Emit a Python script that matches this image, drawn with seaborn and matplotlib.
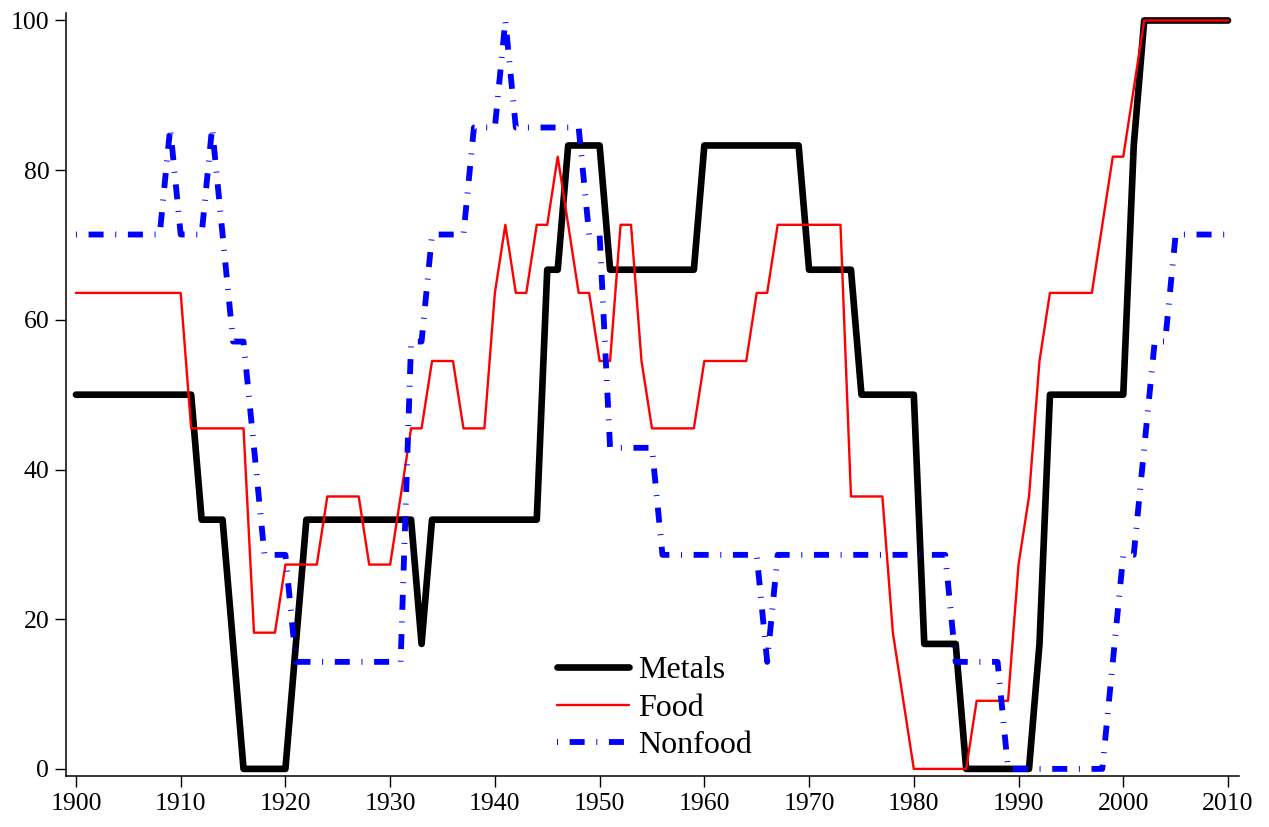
import numpy as np
import pandas as pd
import matplotlib
matplotlib.use("Agg")
import matplotlib.pyplot as plt
import seaborn as sns

# Share (%) of commodities in each group, annual, 1900-2010
years = np.arange(1900, 2011)

metals = [
    50.0, 50.0, 50.0, 50.0, 50.0, 50.0, 50.0, 50.0, 50.0, 50.0,   # 1900s
    50.0, 50.0, 33.3, 33.3, 33.3, 16.7, 0.0, 0.0, 0.0, 0.0,       # 1910s
    0.0, 16.7, 33.3, 33.3, 33.3, 33.3, 33.3, 33.3, 33.3, 33.3,    # 1920s
    33.3, 33.3, 33.3, 16.7, 33.3, 33.3, 33.3, 33.3, 33.3, 33.3,   # 1930s
    33.3, 33.3, 33.3, 33.3, 33.3, 66.7, 66.7, 83.3, 83.3, 83.3,   # 1940s
    83.3, 66.7, 66.7, 66.7, 66.7, 66.7, 66.7, 66.7, 66.7, 66.7,   # 1950s
    83.3, 83.3, 83.3, 83.3, 83.3, 83.3, 83.3, 83.3, 83.3, 83.3,   # 1960s
    66.7, 66.7, 66.7, 66.7, 66.7, 50.0, 50.0, 50.0, 50.0, 50.0,   # 1970s
    50.0, 16.7, 16.7, 16.7, 16.7, 0.0, 0.0, 0.0, 0.0, 0.0,        # 1980s
    0.0, 0.0, 16.7, 50.0, 50.0, 50.0, 50.0, 50.0, 50.0, 50.0,     # 1990s
    50.0, 83.3, 100.0, 100.0, 100.0, 100.0, 100.0, 100.0, 100.0, 100.0,  # 2000s
    100.0,
]

food = [
    63.6, 63.6, 63.6, 63.6, 63.6, 63.6, 63.6, 63.6, 63.6, 63.6,   # 1900s
    63.6, 45.5, 45.5, 45.5, 45.5, 45.5, 45.5, 18.2, 18.2, 18.2,   # 1910s
    27.3, 27.3, 27.3, 27.3, 36.4, 36.4, 36.4, 36.4, 27.3, 27.3,   # 1920s
    27.3, 36.4, 45.5, 45.5, 54.5, 54.5, 54.5, 45.5, 45.5, 45.5,   # 1930s
    63.6, 72.7, 63.6, 63.6, 72.7, 72.7, 81.8, 72.7, 63.6, 63.6,   # 1940s
    54.5, 54.5, 72.7, 72.7, 54.5, 45.5, 45.5, 45.5, 45.5, 45.5,   # 1950s
    54.5, 54.5, 54.5, 54.5, 54.5, 63.6, 63.6, 72.7, 72.7, 72.7,   # 1960s
    72.7, 72.7, 72.7, 72.7, 36.4, 36.4, 36.4, 36.4, 18.2, 9.1,    # 1970s
    0.0, 0.0, 0.0, 0.0, 0.0, 0.0, 9.1, 9.1, 9.1, 9.1,             # 1980s
    27.3, 36.4, 54.5, 63.6, 63.6, 63.6, 63.6, 63.6, 72.7, 81.8,   # 1990s
    81.8, 90.9, 100.0, 100.0, 100.0, 100.0, 100.0, 100.0, 100.0, 100.0,  # 2000s
    100.0,
]

nonfood = [
    71.4, 71.4, 71.4, 71.4, 71.4, 71.4, 71.4, 71.4, 71.4, 85.7,   # 1900s
    71.4, 71.4, 71.4, 85.7, 71.4, 57.1, 57.1, 42.9, 28.6, 28.6,   # 1910s
    28.6, 14.3, 14.3, 14.3, 14.3, 14.3, 14.3, 14.3, 14.3, 14.3,   # 1920s
    14.3, 14.3, 57.1, 57.1, 71.4, 71.4, 71.4, 71.4, 85.7, 85.7,   # 1930s
    85.7, 100.0, 85.7, 85.7, 85.7, 85.7, 85.7, 85.7, 85.7, 71.4,  # 1940s
    71.4, 42.9, 42.9, 42.9, 42.9, 42.9, 28.6, 28.6, 28.6, 28.6,   # 1950s
    28.6, 28.6, 28.6, 28.6, 28.6, 28.6, 14.3, 28.6, 28.6, 28.6,   # 1960s
    28.6, 28.6, 28.6, 28.6, 28.6, 28.6, 28.6, 28.6, 28.6, 28.6,   # 1970s
    28.6, 28.6, 28.6, 28.6, 14.3, 14.3, 14.3, 14.3, 14.3, 0.0,    # 1980s
    0.0, 0.0, 0.0, 0.0, 0.0, 0.0, 0.0, 0.0, 0.0, 14.3,            # 1990s
    28.6, 28.6, 42.9, 57.1, 57.1, 71.4, 71.4, 71.4, 71.4, 71.4,   # 2000s
    71.4,
]

series_names = ["Metals", "Food", "Nonfood"]
x_ticks = np.arange(1900, 2011, 10)
y_ticks = [0, 20, 40, 60, 80, 100]

df = pd.DataFrame({"year": years, "Metals": metals, "Food": food, "Nonfood": nonfood})

sns.set_style("ticks")
plt.rcParams["font.family"] = ["Liberation Serif", "DejaVu Serif"]
plt.rcParams["lines.scale_dashes"] = False
plt.rcParams["text.color"] = "black"
plt.rcParams["axes.edgecolor"] = "black"

W, H = 1269, 827
fig = plt.figure(figsize=(W / 100, H / 100), dpi=100)
ax = fig.add_axes([66 / W, 51 / H, (1239 - 66) / W, (814 - 51) / H])

styles = {
    "Metals": dict(color="black", linewidth=4.8, linestyle="-"),
    "Food": dict(color="#ff0000", linewidth=1.7, linestyle="-"),
    "Nonfood": dict(color="#0000ff", linewidth=4.2,
                    linestyle=(0, (0.7, 8.4, 10.8, 8.4))),
}

for name in series_names:
    sns.lineplot(data=df, x="year", y=name, ax=ax, label=name,
                 solid_joinstyle="round", dash_capstyle="butt",
                 dash_joinstyle="round", **styles[name])

ax.set_xlim(1899.05, 2011.05)
ax.set_ylim(-0.95, 101.0)
ax.set_xticks(x_ticks)
ax.set_yticks(y_ticks)
ax.set_xlabel("")
ax.set_ylabel("")

for side in ("top", "right"):
    ax.spines[side].set_visible(False)
for side in ("left", "bottom"):
    ax.spines[side].set_linewidth(1.1)
    ax.spines[side].set_color("black")
ax.tick_params(axis="both", direction="out", length=8, width=1.0,
               labelsize=18.5, pad=4, colors="black")

leg = ax.legend(loc="center left",
                bbox_to_anchor=((557 - 66) / (1239 - 66), (776 - 708) / (776 - 13)),
                frameon=False, fontsize=23, handlelength=2.25, handletextpad=0.3,
                labelspacing=0.26, borderpad=0, borderaxespad=0)
for t in leg.get_texts():
    t.set_color("black")

fig.savefig("out.png", dpi=100)
